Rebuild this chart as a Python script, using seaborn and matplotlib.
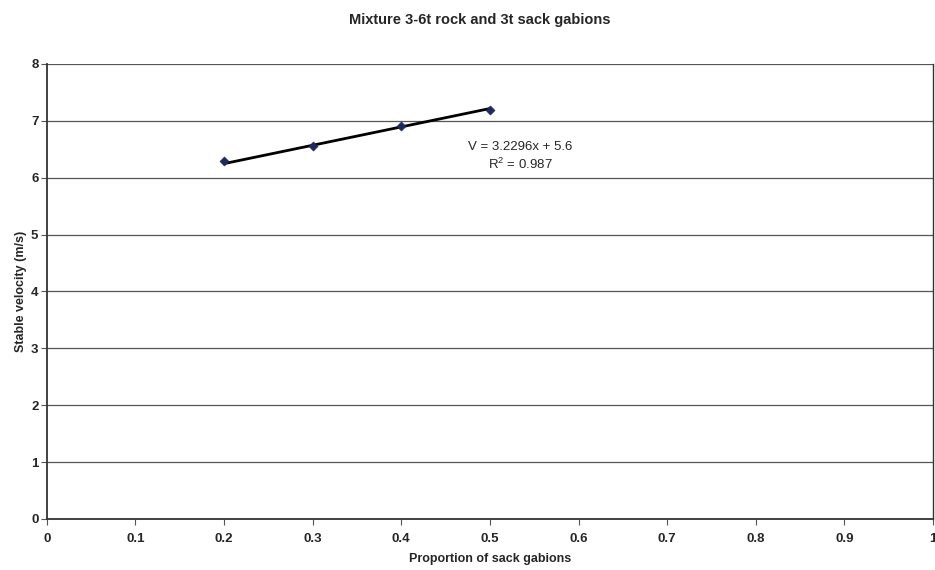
import numpy as np
import seaborn as sns
import matplotlib.pyplot as plt

# Values
proportion = [0.2, 0.3, 0.4, 0.5]
velocity = [6.30, 6.56, 6.90, 7.18]

# Trendline as printed on the chart
slope = 3.2296
intercept = 5.6
r_squared = 0.987

x_ticks = [0, 0.1, 0.2, 0.3, 0.4, 0.5, 0.6, 0.7, 0.8, 0.9, 1]
x_tick_labels = ['0', '0.1', '0.2', '0.3', '0.4', '0.5', '0.6', '0.7', '0.8', '0.9', '1']
y_ticks = [0, 1, 2, 3, 4, 5, 6, 7, 8]

sns.set_style('white')
plt.rcParams['font.family'] = ['Liberation Sans', 'DejaVu Sans']

fig = plt.figure(figsize=(9.35, 5.7), dpi=100)
ax = fig.add_axes([0.050, 0.0895, 0.948, 0.7985])

# trendline over the data range
fit_x = np.array([min(proportion), max(proportion)])
fit_y = slope * fit_x + intercept
sns.lineplot(x=fit_x, y=fit_y, ax=ax, color='black', linewidth=2, zorder=3)

sns.scatterplot(x=proportion, y=velocity, ax=ax, marker='D', s=22,
                color='#1f2a5c', edgecolor='#1f2a5c', zorder=4)

ax.set_xlim(0, 1)
ax.set_ylim(0, 8)
ax.set_xticks(x_ticks)
ax.set_xticklabels(x_tick_labels)
ax.set_yticks(y_ticks)
ax.yaxis.grid(True, color='#555555', linewidth=0.9)
ax.xaxis.grid(False)

for lab in ax.get_xticklabels() + ax.get_yticklabels():
    lab.set_fontweight('bold')
    lab.set_fontsize(9.5)

ax.tick_params(axis='x', direction='out', length=4, width=0.8,
               color='#555555', bottom=True, pad=6)
ax.tick_params(axis='y', direction='out', length=4, width=0.8,
               color='#555555', left=True, pad=2)

for side in ['left', 'bottom']:
    ax.spines[side].set_color('#333333')
    ax.spines[side].set_linewidth(1.3)
ax.spines['right'].set_color('#333333')
ax.spines['right'].set_linewidth(1.0)
ax.spines['top'].set_visible(False)

ax.set_xlabel('Proportion of sack gabions', fontsize=9, fontweight='bold', labelpad=6)
ax.set_ylabel('Stable velocity (m/s)', fontsize=9, fontweight='bold', labelpad=3)
fig.suptitle('Mixture 3-6t rock and 3t sack gabions', fontsize=10.5, fontweight='bold', x=0.513, y=0.978)

ax.text(0.534, 6.37, f'V = {slope}x + {intercept}\n$\\mathregular{{R^2}}$ = {r_squared}',
        ha='center', va='center', fontsize=9.5, linespacing=1.3)

fig.savefig('out.png', dpi=100)
